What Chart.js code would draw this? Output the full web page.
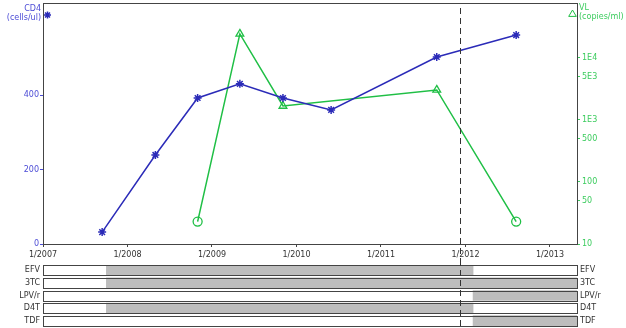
<!DOCTYPE html>
<html>
<head>
<meta charset="utf-8">
<script src="https://cdn.jsdelivr.net/npm/chart.js@4/dist/chart.umd.min.js"></script>
<style>
  html, body { margin: 0; padding: 0; background: #fff; }
  #wrap { position: relative; width: 626px; height: 328px; overflow: hidden; }
  canvas { position: absolute; left: 0; }
  #main { top: 0; }
  #rx { top: 262px; }
</style>
</head>
<body>
<div id="wrap">
  <canvas id="main" width="626" height="262"></canvas>
  <canvas id="rx" width="626" height="66"></canvas>
</div>
<script>
// Time axis (decimal years) and its labelled ticks
const yearTicks = [2007, 2008, 2009, 2010, 2011, 2012, 2013];
const xMin = 2007;
const xMax = 2013.32;
const markerDate = 2011.93;

// CD4 count (cells/ul)
const cd4Dates  = [2007.70, 2008.33, 2008.83, 2009.33, 2009.84, 2010.41, 2011.66, 2012.60];
const cd4Values = [32, 239, 392, 430, 392, 360, 502, 561];
const cd4Ticks  = [0, 200, 400];
const cd4Max    = 647;

// Viral load (copies/ml); circles mark results below detection
const vlDates   = [2008.83, 2009.33, 2009.84, 2011.66, 2012.60];
const vlValues  = [23, 24400, 1680, 3050, 23];
const vlMarkers = ['circle', 'triangle', 'triangle', 'triangle', 'circle'];
const vlTicks      = [10, 50, 100, 500, 1000, 5000, 10000];
const vlTickLabels = ['10', '50', '100', '500', '1E3', '5E3', '1E4'];
const vlMin = 10;
const vlMax = 77000;

// Drug regimen periods
const drugs     = ['EFV', '3TC', 'LPV/r', 'D4T', 'TDF'];
const drugStart = [2007.75, 2007.75, 2012.09, 2007.75, 2012.09];
const drugStop  = [2012.09, 2013.32, 2013.32, 2012.09, 2013.32];

const BLUE = '#2b2bb8';
const BLUE_TXT = '#4c4cd6';
const GREEN = '#1fbf45';
const GREEN_TXT = '#3ccc5e';
const AXIS = '#444';
const FONT = { family: '"DejaVu Sans", sans-serif', size: 8 };

// keep the plot area exactly where the layout padding puts it
function noEdgePadding(s) {
  s.paddingTop = 0; s.paddingBottom = 0; s.paddingLeft = 0; s.paddingRight = 0;
}

function drawAsterisk(ctx, x, y, r, color) {
  ctx.save();
  ctx.strokeStyle = color;
  ctx.lineWidth = 1.5;
  ctx.beginPath();
  for (let k = 0; k < 4; k++) {
    const a = k * Math.PI / 4;
    ctx.moveTo(x - r * Math.cos(a), y - r * Math.sin(a));
    ctx.lineTo(x + r * Math.cos(a), y + r * Math.sin(a));
  }
  ctx.stroke();
  ctx.restore();
}

function drawTriangle(ctx, x, y, r, color) {
  ctx.save();
  ctx.strokeStyle = color;
  ctx.lineWidth = 1;
  ctx.beginPath();
  ctx.moveTo(x, y - r);
  ctx.lineTo(x + r * 0.95, y + r * 0.6);
  ctx.lineTo(x - r * 0.95, y + r * 0.6);
  ctx.closePath();
  ctx.stroke();
  ctx.restore();
}

// Frame, date marker and axis captions for the lab chart
const labDecor = {
  id: 'labDecor',
  afterDraw(chart) {
    const { ctx, chartArea: a, scales } = chart;
    ctx.save();
    ctx.strokeStyle = AXIS;
    ctx.lineWidth = 1;
    ctx.strokeRect(Math.round(a.left) + 0.5, Math.round(a.top) + 0.5,
                   Math.round(a.right - a.left), Math.round(a.bottom - a.top));

    const xd = Math.round(scales.x.getPixelForValue(markerDate)) + 0.5;
    ctx.strokeStyle = '#333';
    ctx.setLineDash([6, 4]);
    ctx.beginPath();
    ctx.moveTo(xd, a.top + 5);
    ctx.lineTo(xd, chart.height);
    ctx.stroke();
    ctx.setLineDash([]);

    ctx.font = '8px "DejaVu Sans", sans-serif';
    ctx.textBaseline = 'middle';
    ctx.fillStyle = BLUE_TXT;
    ctx.textAlign = 'right';
    ctx.fillText('CD4', a.left - 2, 9);
    ctx.fillText('(cells/ul)', a.left - 2, 18);
    ctx.fillStyle = GREEN_TXT;
    ctx.textAlign = 'left';
    ctx.fillText('VL', a.right + 2, 8);
    ctx.fillText('(copies/ml)', a.right + 2, 17);
    ctx.restore();

    drawAsterisk(ctx, a.left + 4.5, 15, 3.5, BLUE);
    drawTriangle(ctx, a.right - 4.5, 14, 4, GREEN);
  }
};

new Chart(document.getElementById('main'), {
  type: 'scatter',
  data: {
    datasets: [
      {
        label: 'CD4',
        data: cd4Dates.map((d, i) => ({ x: d, y: cd4Values[i] })),
        yAxisID: 'y',
        showLine: true,
        borderColor: BLUE,
        backgroundColor: BLUE,
        borderWidth: 1.5,
        pointStyle: 'star',
        pointRadius: 4,
        pointBorderWidth: 1.5,
        pointBorderColor: BLUE,
        tension: 0
      },
      {
        label: 'VL',
        data: vlDates.map((d, i) => ({ x: d, y: vlValues[i] })),
        yAxisID: 'y1',
        showLine: true,
        borderColor: GREEN,
        backgroundColor: 'rgba(0,0,0,0)',
        borderWidth: 1.5,
        pointStyle: vlMarkers,
        pointRadius: 4.5,
        pointBorderWidth: 1.3,
        pointBorderColor: GREEN,
        pointBackgroundColor: 'rgba(0,0,0,0)',
        tension: 0
      }
    ]
  },
  options: {
    responsive: false,
    animation: false,
    devicePixelRatio: 1,
    layout: { autoPadding: false, padding: { top: 3, left: 0, right: 0, bottom: 0 } },
    plugins: { legend: { display: false }, tooltip: { enabled: false } },
    scales: {
      x: {
        type: 'linear',
        min: xMin,
        max: xMax,
        afterBuildTicks: s => { s.ticks = yearTicks.map(v => ({ value: v })); },
        afterFit: s => { s.height = 18; noEdgePadding(s); },
        grid: { drawOnChartArea: false, drawTicks: true, tickLength: 3, color: AXIS },
        border: { display: false },
        ticks: { color: '#333', font: FONT, padding: 3, maxRotation: 0, autoSkip: false,
                 callback: v => '1/' + v }
      },
      y: {
        type: 'linear',
        position: 'left',
        min: 0,
        max: cd4Max,
        afterBuildTicks: s => { s.ticks = cd4Ticks.map(v => ({ value: v })); },
        afterFit: s => { s.width = 43; noEdgePadding(s); },
        grid: { drawOnChartArea: false, drawTicks: true, tickLength: 3, color: BLUE_TXT },
        border: { display: false },
        ticks: { color: BLUE_TXT, font: FONT, padding: 1 }
      },
      y1: {
        type: 'logarithmic',
        position: 'right',
        min: vlMin,
        max: vlMax,
        afterBuildTicks: s => { s.ticks = vlTicks.map(v => ({ value: v })); },
        afterFit: s => { s.width = 49; noEdgePadding(s); },
        grid: { drawOnChartArea: false, drawTicks: true, tickLength: 3, color: GREEN_TXT },
        border: { display: false },
        ticks: { color: GREEN_TXT, font: FONT, padding: 2, autoSkip: false,
                 callback: v => { const i = vlTicks.indexOf(v); return i >= 0 ? vlTickLabels[i] : ''; } }
      }
    }
  },
  plugins: [labDecor]
});

// Outline of each regimen row and the date marker through the rows
const rxDecor = {
  id: 'rxDecor',
  afterDatasetsDraw(chart) {
    const { ctx, scales } = chart;
    const meta = chart.getDatasetMeta(0);
    ctx.save();
    ctx.strokeStyle = AXIS;
    ctx.lineWidth = 1;
    meta.data.forEach(el => {
      const left = Math.round(Math.min(el.x, el.base)) + 0.5;
      const right = Math.round(Math.max(el.x, el.base)) + 0.5;
      const top = Math.round(el.y - el.height / 2) + 0.5;
      const h = Math.round(el.height);
      ctx.strokeRect(left, top, right - left, h);
    });
    const xd = Math.round(scales.x.getPixelForValue(markerDate)) + 0.5;
    ctx.strokeStyle = '#333';
    ctx.setLineDash([6, 4]);
    ctx.lineDashOffset = 2;
    ctx.beginPath();
    ctx.moveTo(xd, 0);
    ctx.lineTo(xd, chart.height);
    ctx.stroke();
    ctx.restore();
  }
};

const rowAxisGrid = { display: true, drawOnChartArea: false, drawTicks: false, color: 'rgba(0,0,0,0)' };

new Chart(document.getElementById('rx'), {
  type: 'bar',
  data: {
    labels: drugs,
    datasets: [
      {
        data: drugs.map(() => [xMin, xMax]),
        backgroundColor: '#ffffff',
        borderWidth: 0,
        grouped: false,
        barThickness: 10,
        order: 2
      },
      {
        data: drugs.map((d, i) => [drugStart[i], drugStop[i]]),
        backgroundColor: '#bdbdbd',
        borderWidth: 0,
        grouped: false,
        barThickness: 10,
        order: 1
      }
    ]
  },
  options: {
    indexAxis: 'y',
    responsive: false,
    animation: false,
    devicePixelRatio: 1,
    layout: { autoPadding: false, padding: { top: 2, bottom: 1, left: 0, right: 0 } },
    plugins: { legend: { display: false }, tooltip: { enabled: false } },
    scales: {
      x: { type: 'linear', min: xMin, max: xMax, display: false },
      y: {
        type: 'category',
        position: 'left',
        afterFit: s => { s.width = 43; noEdgePadding(s); },
        grid: rowAxisGrid,
        border: { display: false },
        ticks: { color: '#333', font: FONT, padding: 3 }
      },
      y2: {
        type: 'category',
        labels: drugs,
        position: 'right',
        offset: true,
        afterFit: s => { s.width = 49; noEdgePadding(s); },
        grid: rowAxisGrid,
        border: { display: false },
        ticks: { color: '#333', font: FONT, padding: 3 }
      }
    }
  },
  plugins: [rxDecor]
});
</script>
</body>
</html>
